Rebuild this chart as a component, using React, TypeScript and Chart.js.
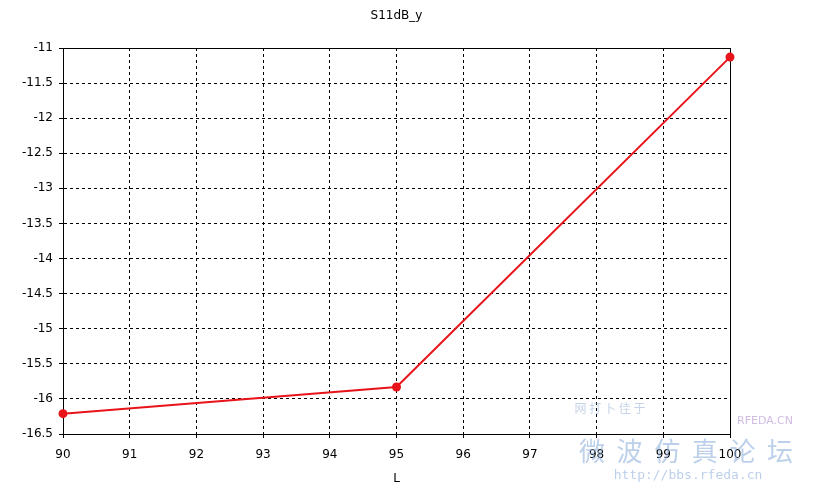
import React, { useEffect, useRef } from "react";
import { Chart, registerables } from "chart.js";

Chart.register(...registerables);

const xValues = [90, 95, 100];
const yValues = [-16.21, -15.83, -11.13];
const chartTitle = "S11dB_y";
const xTitle = "L";

const FONT = "'DejaVu Sans', sans-serif";

const boxPlugin = {
  id: "boxPlugin",
  beforeDatasetsDraw(chart: any) {
    const { ctx, chartArea } = chart;
    ctx.save();
    ctx.strokeStyle = "#000";
    ctx.lineWidth = 1;
    ctx.strokeRect(Math.round(chartArea.left) + 0.5, Math.round(chartArea.top) + 0.5, Math.round(chartArea.right - chartArea.left), Math.round(chartArea.bottom - chartArea.top));
    ctx.restore();
  },
  afterDraw(chart: any) {
    const { ctx, chartArea } = chart;
    ctx.save();
    ctx.fillStyle = "#000";
    ctx.font = "12px " + FONT;
    ctx.textAlign = "center";
    ctx.textBaseline = "middle";
    ctx.fillText(chartTitle, (chartArea.left + chartArea.right) / 2, 16);
    ctx.globalAlpha = 0.6;
    ctx.fillStyle = "#9fb8d8";
    ctx.font = "12px 'Noto Sans CJK SC'";
    ctx.fillText("网 打 卜 佳 于", 610, 408);
    ctx.fillStyle = "#b090d0";
    ctx.font = "11px 'DejaVu Sans'";
    ctx.fillText("RFEDA.CN", 765, 421);
    ctx.fillStyle = "#8fb0dc";
    ctx.font = "26px 'Noto Sans CJK SC'";
    ctx.fillText("微  波  仿  真  论  坛", 686, 451);
    ctx.font = "13px 'DejaVu Sans Mono'";
    ctx.fillText("http://bbs.rfeda.cn", 688, 476);
    ctx.restore();
  },
};

export default function App() {
  const ref = useRef<HTMLCanvasElement | null>(null);
  useEffect(() => {
    document.body.style.margin = "0";
    const canvas = ref.current!;
    const chart = new Chart(canvas, {
      type: "line",
      data: {
        datasets: [
          {
            data: xValues.map((x, i) => ({ x, y: yValues[i] })),
            borderColor: "#e8141a",
            backgroundColor: "#e8141a",
            borderWidth: 2,
            pointRadius: 4.5,
            pointBorderWidth: 0,
            pointBackgroundColor: "#e8141a",
            tension: 0,
            clip: false,
          },
        ],
      },
      options: {
        animation: false,
        responsive: false,
        layout: { padding: { left: 0, right: 91, top: 48, bottom: 0 } },
        plugins: {
          legend: { display: false },
          tooltip: { enabled: false },
          title: { display: false },
        },
        scales: {
          x: {
            type: "linear",
            min: 90,
            max: 100,
            ticks: { stepSize: 1, color: "#000", font: { family: FONT, size: 12 }, padding: 10, maxRotation: 0 },
            grid: { color: "#000", lineWidth: 1, tickLength: 4, tickBorderDash: [], drawTicks: true },
            border: { display: true, color: "#000", dash: [3, 3] },
            title: { display: true, text: xTitle, color: "#000", font: { family: FONT, size: 12 }, padding: { top: 0, bottom: 4 } },
            afterFit(scale: any) {
              scale.height = 56;
            },
          },
          y: {
            type: "linear",
            min: -16.5,
            max: -11,
            ticks: {
              stepSize: 0.5,
              color: "#000",
              font: { family: FONT, size: 12 },
              padding: 6,
              callback: (v: any) => String(Math.round(Number(v) * 10) / 10),
            },
            grid: { color: "#000", lineWidth: 1, tickLength: 4, tickBorderDash: [] },
            border: { display: true, color: "#000", dash: [3, 3] },
            afterFit(scale: any) {
              scale.width = 63;
            },
          },
        },
      },
      plugins: [boxPlugin],
    } as any);
    return () => chart.destroy();
  }, []);
  return <canvas ref={ref} width={821} height={490} style={{ display: "block" }} />;
}
